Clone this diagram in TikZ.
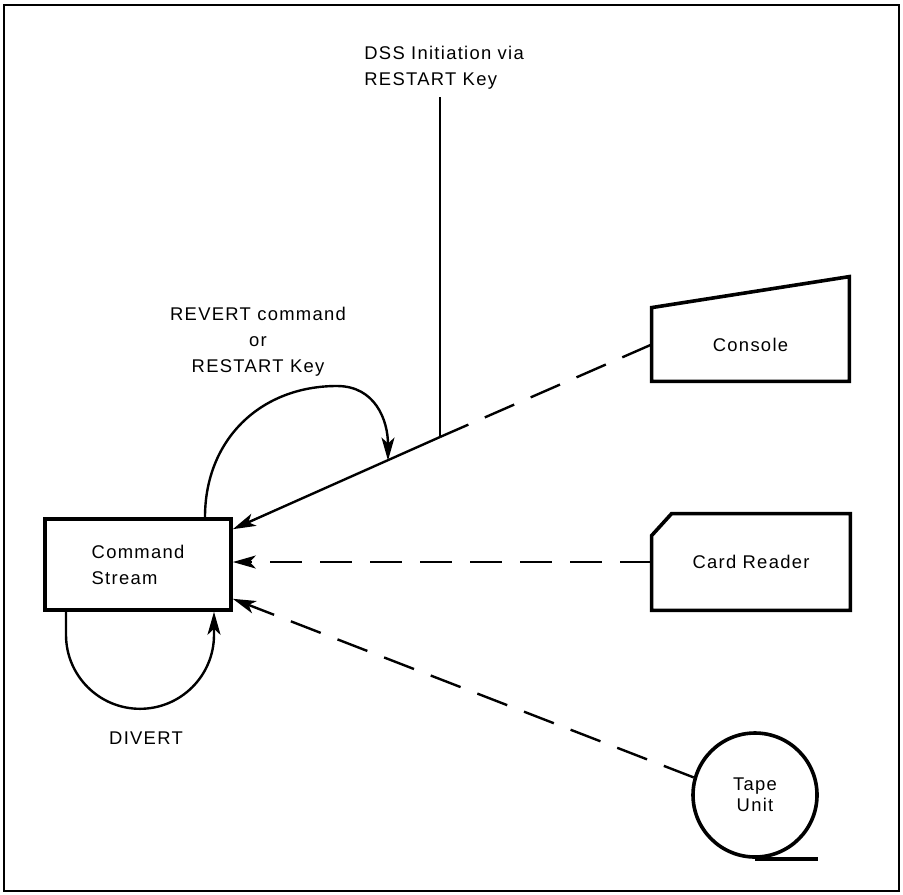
\documentclass[tikz,border=0pt]{standalone}
\usepackage{fontspec}
\setmainfont{Liberation Sans}[LetterSpace=7]
\usetikzlibrary{arrows.meta}
\begin{document}
\begin{tikzpicture}[x=0.5pt,y=-0.5pt,
  every node/.style={font=\fontsize{9.2}{13}\selectfont},
  unit/.style={inner sep=0pt},
  outline/.style={line width=1.8pt, line join=miter},
  flow/.style={line width=1.2pt},
  dashflow/.style={flow, dash pattern=on 16pt off 9pt},
  tip/.style={-{Stealth[length=11.5pt,width=6.5pt,inset=3pt]}}
]
\useasboundingbox (0,0) rectangle (903,894);
% outer frame
\draw[line width=1.4pt] (4,5) rectangle (899,891);

% command stream
\node[draw, outline, minimum width=93pt, minimum height=45.5pt, align=left] (cmd) at (138,564.5) {Command\\Stream};

% console (slanted top)
\node[unit, minimum width=98.5pt, minimum height=36.5pt] (console) at (750.5,344.5) {Console};
\draw[outline] (console.south west) -- (console.north west)
  -- ([yshift=15.5pt]console.north east) -- (console.south east) -- cycle;

% card reader (cut corner)
\node[unit, minimum width=99pt, minimum height=48pt] (reader) at (751,562) {Card Reader};
\draw[outline] (reader.south west) -- ([yshift=-11pt]reader.north west)
  -- ([xshift=10pt]reader.north west) -- (reader.north east)
  -- (reader.south east) -- cycle;

% tape unit
\node[draw, outline, circle, minimum size=62pt, inner sep=0pt, align=center,
  font=\fontsize{9.2}{10.5}\selectfont] (tape) at (755,795) {Tape\\Unit};
\draw[outline] (tape.south) -- ++(63,0);

% DSS initiation
\node[align=left, anchor=west, inner sep=0pt] (dss) at (364,68) {DSS Initiation via\\RESTART Key};
\coordinate (dssfoot) at (440,97);
\coordinate (junction) at (440,437);
\draw[flow] (dssfoot) -- (junction);
\draw[dashflow] (console.west) -- (junction);
\draw[flow, tip] (junction) -- ([yshift=-6pt]cmd.north east);

% other inputs
\draw[dashflow, tip] (reader.west) -- (reader.west -| cmd.east);
\draw[dashflow, tip] (tape.164) -- ([yshift=6.5pt]cmd.south east);

% REVERT loop
\node[align=center] (revert) at (258,342) {REVERT command\\or\\RESTART Key};
\coordinate (revertIn) at (388,460.5);
\draw[flow, tip] ([xshift=33.5pt]cmd.north) .. controls (205,440) and (260,386) .. (337,386)
  .. controls (375,386) and (388,420) .. (revertIn);

% DIVERT loop
\draw[flow, tip] ([xshift=-36pt]cmd.south) -- ++(0,23)
  arc[start angle=180, end angle=360, radius=37pt] -- ([xshift=38pt]cmd.south);
\node (divert) at (146,738) {DIVERT};
\end{tikzpicture}
\end{document}
